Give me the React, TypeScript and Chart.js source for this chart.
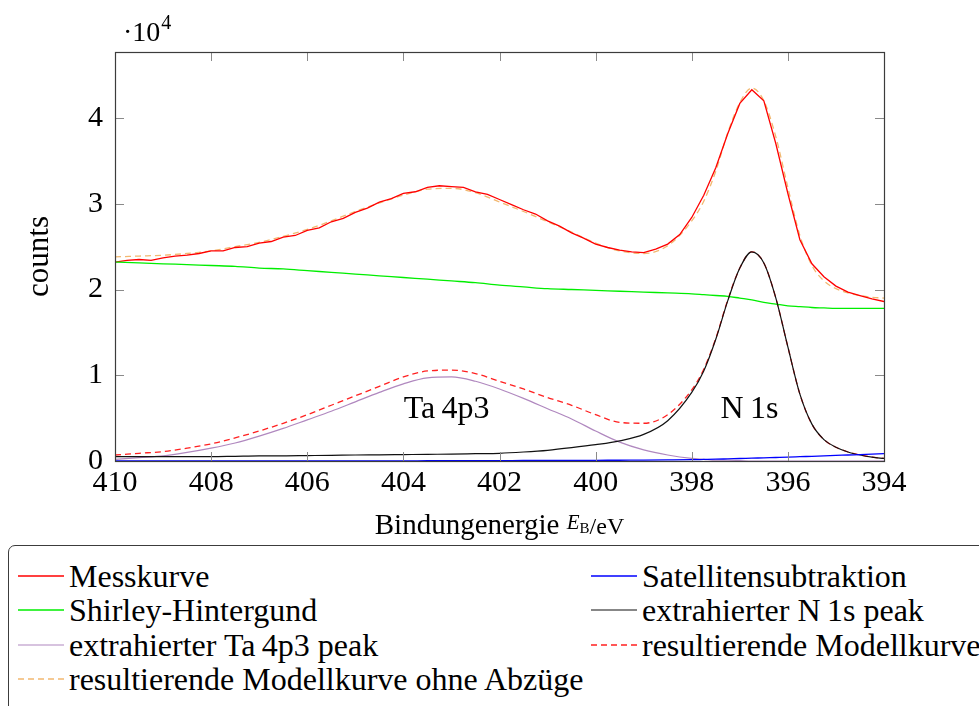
import React, { useEffect, useRef } from "react";
import { Chart, registerables } from "chart.js";

Chart.register(...registerables);

const SERIF = '"Liberation Serif", "Times New Roman", "DejaVu Serif", serif';

// Binding energy grid of the measured curve (eV)
const ENERGY_MEAS = [
  410, 409.75, 409.5, 409.25, 409, 408.75, 408.5, 408.25, 408, 407.75, 407.5, 407.25, 407,
  406.75, 406.5, 406.25, 406, 405.75, 405.5, 405.25, 405, 404.75, 404.5, 404.25, 404, 403.75,
  403.5, 403.25, 403, 402.75, 402.5, 402.25, 402, 401.75, 401.5, 401.25, 401, 400.75, 400.5,
  400.25, 400, 399.75, 399.5, 399.25, 399, 398.75, 398.5, 398.25, 398, 397.75, 397.5, 397.25,
  397, 396.75, 396.5, 396.25, 396, 395.75, 395.5, 395.25, 395, 394.75, 394.5, 394.25, 394,
];
// counts / 10^4
const MESSKURVE = [
  2.32, 2.34, 2.35, 2.34, 2.37, 2.39, 2.4, 2.42, 2.45, 2.45, 2.49, 2.5, 2.54, 2.56, 2.61, 2.63,
  2.69, 2.72, 2.79, 2.83, 2.9, 2.95, 3.02, 3.06, 3.12, 3.14, 3.19, 3.21, 3.2, 3.19, 3.14, 3.11,
  3.05, 2.99, 2.93, 2.88, 2.8, 2.74, 2.66, 2.6, 2.53, 2.49, 2.46, 2.44, 2.43, 2.47, 2.53, 2.64,
  2.84, 3.1, 3.42, 3.82, 4.17, 4.33, 4.2, 3.7, 3.12, 2.58, 2.3, 2.15, 2.04, 1.97, 1.93, 1.89, 1.86,
];

// Binding energy grid of the fitted components (eV)
const ENERGY_FIT = [
  410, 409.5, 409, 408.5, 408, 407.5, 407, 406.5, 406, 405.5, 405, 404.5, 404, 403.5, 403, 402.5,
  402, 401.5, 401, 400.5, 400, 399.5, 399, 398.5, 398, 397.75, 397.5, 397.25, 397, 396.75, 396.5,
  396.25, 396, 395.75, 395.5, 395.25, 395, 394.75, 394.5, 394.25, 394,
];
const SHIRLEY = [
  2.32, 2.31, 2.3, 2.29, 2.28, 2.27, 2.25, 2.24, 2.22, 2.2, 2.18, 2.16, 2.14, 2.12, 2.1, 2.08,
  2.05, 2.03, 2.01, 2.0, 1.99, 1.98, 1.97, 1.96, 1.95, 1.94, 1.93, 1.92, 1.9, 1.88, 1.85, 1.83,
  1.81, 1.8, 1.79, 1.785, 1.78, 1.78, 1.78, 1.78, 1.78,
];
const SATELLIT = [
  0, 0, 0, 0, 0, 0, 0, 0, 0, 0, 0, 0, 0, 0.003, 0.004, 0.005, 0.005, 0.006, 0.006, 0.007, 0.008,
  0.009, 0.01, 0.012, 0.015, 0.018, 0.021, 0.025, 0.029, 0.033, 0.037, 0.041, 0.045, 0.05, 0.055,
  0.06, 0.065, 0.07, 0.075, 0.08, 0.085,
];
const N1S = [
  0.05, 0.05, 0.05, 0.05, 0.05, 0.055, 0.06, 0.06, 0.063, 0.066, 0.07, 0.072, 0.075, 0.078, 0.08,
  0.085, 0.09, 0.105, 0.125, 0.155, 0.19, 0.235, 0.31, 0.47, 0.8, 1.05, 1.42, 1.87, 2.25, 2.44,
  2.31, 1.9, 1.33, 0.78, 0.43, 0.25, 0.16, 0.105, 0.07, 0.045, 0.03,
];
const TA4P3 = [
  0.02, 0.04, 0.06, 0.1, 0.15, 0.21, 0.29, 0.38, 0.48, 0.58, 0.69, 0.8, 0.9, 0.97, 0.98, 0.93,
  0.84, 0.73, 0.61, 0.49, 0.35, 0.22, 0.13, 0.07, 0.03, 0.02, 0.01, 0.01, 0.005, 0, 0, 0, 0, 0, 0,
  0, 0, 0, 0, 0, 0,
];
const MODELL = [
  0.07, 0.09, 0.11, 0.15, 0.2, 0.27, 0.35, 0.44, 0.54, 0.65, 0.76, 0.87, 0.98, 1.05, 1.06, 1.02,
  0.93, 0.84, 0.74, 0.65, 0.54, 0.45, 0.44, 0.54, 0.83, 1.07, 1.43, 1.88, 2.25, 2.44, 2.31, 1.9,
  1.33, 0.78, 0.43, 0.25, 0.16, 0.105, 0.07, 0.045, 0.03,
];
const MODELL_GESAMT = [
  2.38, 2.39, 2.4, 2.42, 2.45, 2.5, 2.55, 2.62, 2.7, 2.8, 2.91, 3.01, 3.1, 3.17, 3.18, 3.13,
  3.02, 2.91, 2.79, 2.67, 2.54, 2.45, 2.42, 2.51, 2.8, 3.03, 3.38, 3.83, 4.18, 4.35, 4.2, 3.78,
  3.19, 2.63, 2.28, 2.1, 2.01, 1.96, 1.93, 1.91, 1.9,
];

const X_TICKS = [410, 408, 406, 404, 402, 400, 398, 396, 394];
const Y_TICKS = [0, 1, 2, 3, 4];
const X_MIN = 394;
const X_MAX = 410;
const Y_MIN = 0;
const Y_MAX = 4.77;

const PEAK_LABELS = [
  { text: "Ta\u20094p3", x: 403.1, y: 0.6 },
  { text: "N\u20091s", x: 396.8, y: 0.6 },
];

type Series = {
  label: string;
  x: number[];
  y: number[];
  color: string;
  dash: number[];
  width: number;
  smooth: boolean;
};

// legend order (row-major, two columns)
const SERIES: Series[] = [
  { label: "Messkurve", x: ENERGY_MEAS, y: MESSKURVE, color: "#ff0000", dash: [], width: 1.3, smooth: false },
  { label: "Satellitensubtraktion", x: ENERGY_FIT, y: SATELLIT, color: "#0000ff", dash: [], width: 1.3, smooth: true },
  { label: "Shirley-Hintergund", x: ENERGY_FIT, y: SHIRLEY, color: "#00ee00", dash: [], width: 1.3, smooth: true },
  { label: "extrahierter N\u20091s peak", x: ENERGY_FIT, y: N1S, color: "#111111", dash: [], width: 1.2, smooth: true },
  { label: "extrahierter Ta\u20094p3 peak", x: ENERGY_FIT, y: TA4P3, color: "#b088bf", dash: [], width: 1.2, smooth: true },
  { label: "resultierende Modellkurve", x: ENERGY_FIT, y: MODELL, color: "#ff2020", dash: [6, 4], width: 1.3, smooth: true },
  { label: "resultierende Modellkurve ohne Abzüge", x: ENERGY_FIT, y: MODELL_GESAMT, color: "#f2b870", dash: [6, 4], width: 1.3, smooth: true },
];

// draw order (first drawn at bottom)
const DRAW_ORDER = [6, 5, 0, 2, 4, 3, 1];

const TICK_LEN = 9;
const TICK_FONT = 30;
const TEXT_FONT = 31;

const decorPlugin = {
  id: "decor",
  afterDraw(chart: any) {
    const { ctx, chartArea: a, scales } = chart;
    const xs = scales.x;
    const ys = scales.y;
    ctx.save();
    // inward tick marks on all four sides
    ctx.strokeStyle = "#8a8a8a";
    ctx.lineWidth = 1;
    ctx.beginPath();
    for (const t of X_TICKS) {
      const px = Math.round(xs.getPixelForValue(t)) + 0.5;
      ctx.moveTo(px, a.bottom);
      ctx.lineTo(px, a.bottom - TICK_LEN);
      ctx.moveTo(px, a.top);
      ctx.lineTo(px, a.top + TICK_LEN);
    }
    for (const t of Y_TICKS) {
      const py = Math.round(ys.getPixelForValue(t)) + 0.5;
      ctx.moveTo(a.left, py);
      ctx.lineTo(a.left + TICK_LEN, py);
      ctx.moveTo(a.right, py);
      ctx.lineTo(a.right - TICK_LEN, py);
    }
    ctx.stroke();
    // frame
    ctx.strokeStyle = "#3c3c3c";
    ctx.lineWidth = 1.2;
    ctx.strokeRect(Math.round(a.left) + 0.5, Math.round(a.top) + 0.5, Math.round(a.right - a.left), Math.round(a.bottom - a.top));

    ctx.fillStyle = "#000";
    // peak labels
    ctx.font = `32px ${SERIF}`;
    ctx.textAlign = "center";
    ctx.textBaseline = "middle";
    for (const p of PEAK_LABELS) {
      ctx.fillText(p.text, xs.getPixelForValue(p.x), ys.getPixelForValue(p.y));
    }

    // y axis title
    ctx.save();
    ctx.translate(40, (a.top + a.bottom) / 2);
    ctx.rotate(-Math.PI / 2);
    ctx.textAlign = "center";
    ctx.textBaseline = "middle";
    ctx.font = `${TEXT_FONT}px ${SERIF}`;
    ctx.fillText("counts", 0, 0);
    ctx.restore();

    // scale multiplier ·10^4
    ctx.textAlign = "left";
    ctx.textBaseline = "alphabetic";
    ctx.font = `28px ${SERIF}`;
    const base = "\u00b710";
    ctx.fillText(base, 123, 41);
    const bw = ctx.measureText(base).width;
    ctx.font = `20px ${SERIF}`;
    ctx.fillText("4", 123 + bw + 1, 29);

    // x axis title: Bindungenergie E_B/eV
    const cx = (a.left + a.right) / 2;
    const by = 534;
    const f1 = `29px ${SERIF}`;
    const f2 = `italic 21px ${SERIF}`;
    const f3 = `15px ${SERIF}`;
    const f4 = `24px ${SERIF}`;
    ctx.font = f1;
    const t1 = "Bindungenergie ";
    const w1 = ctx.measureText(t1).width;
    ctx.font = f2;
    const w2 = ctx.measureText("E").width;
    ctx.font = f3;
    const w3 = ctx.measureText("B").width;
    ctx.font = f4;
    const w4 = ctx.measureText("/eV").width;
    let x0 = cx - (w1 + w2 + w3 + w4) / 2;
    ctx.font = f1;
    ctx.fillText(t1, x0, by);
    x0 += w1;
    ctx.font = f2;
    ctx.fillText("E", x0, by - 5);
    x0 += w2;
    ctx.font = f3;
    ctx.fillText("B", x0, by - 1);
    x0 += w3;
    ctx.font = f4;
    ctx.fillText("/eV", x0, by);
    ctx.restore();
  },
};

export default function App() {
  const ref = useRef<HTMLCanvasElement>(null);

  useEffect(() => {
    const datasets = DRAW_ORDER.map((idx, k) => {
      const s = SERIES[idx];
      return {
        label: s.label,
        data: s.x.map((x, i) => ({ x, y: s.y[i] })),
        borderColor: s.color,
        backgroundColor: s.color,
        borderWidth: s.width,
        borderDash: s.dash,
        pointRadius: 0,
        fill: false,
        tension: 0,
        cubicInterpolationMode: s.smooth ? "monotone" : "default",
        order: DRAW_ORDER.length - k,
      };
    });

    const chart = new Chart(ref.current!, {
      type: "line",
      data: { datasets: datasets as any },
      plugins: [decorPlugin],
      options: {
        animation: false,
        responsive: true,
        maintainAspectRatio: false,
        layout: { padding: { top: 52, right: 95, left: 0, bottom: 0 } },
        plugins: { legend: { display: false }, tooltip: { enabled: false } },
        scales: {
          x: {
            type: "linear",
            reverse: true,
            min: X_MIN,
            max: X_MAX,
            afterFit: (s: any) => {
              s.height = 79;
            },
            afterBuildTicks: (s: any) => {
              s.ticks = X_TICKS.map((v) => ({ value: v }));
            },
            grid: { display: false, drawTicks: false },
            border: { display: false },
            ticks: {
              padding: 4,
              color: "#000",
              font: { family: SERIF, size: TICK_FONT },
              maxRotation: 0,
              autoSkip: false,
              callback: (v: any) => String(v),
            },
          },
          y: {
            type: "linear",
            min: Y_MIN,
            max: Y_MAX,
            afterFit: (s: any) => {
              s.width = 115;
            },
            afterBuildTicks: (s: any) => {
              s.ticks = Y_TICKS.map((v) => ({ value: v }));
            },
            grid: { display: false, drawTicks: false },
            border: { display: false },
            ticks: {
              padding: 12,
              color: "#000",
              font: { family: SERIF, size: TICK_FONT },
              callback: (v: any) => String(v),
            },
          },
        },
      },
    });
    return () => chart.destroy();
  }, []);

  const ROW_H = 34.3;
  const COL_X = [9, 582];
  return (
    <div
      style={{
        position: "fixed",
        left: 0,
        top: 0,
        width: 979,
        height: 706,
        overflow: "hidden",
        background: "#fff",
        fontFamily: SERIF,
      }}
    >
      <div style={{ position: "absolute", left: 0, top: 0, width: 979, height: 540 }}>
        <canvas ref={ref} />
      </div>
      <div
        style={{
          position: "absolute",
          left: 8,
          top: 545,
          width: 1010,
          height: 220,
          border: "1px solid #3c3c3c",
          borderTopLeftRadius: 7,
          boxSizing: "border-box",
        }}
      >
        {SERIES.map((s, i) => {
          const col = i % 2;
          const row = Math.floor(i / 2);
          const top = 12 + row * ROW_H;
          return (
            <div
              key={s.label}
              style={{
                position: "absolute",
                left: COL_X[col],
                top,
                height: 36,
                display: "flex",
                alignItems: "center",
                whiteSpace: "nowrap",
                fontSize: 32,
                lineHeight: "36px",
                color: "#000",
              }}
            >
              <svg width={46} height={6} style={{ marginRight: 5, display: "block" }}>
                <line
                  x1={0}
                  y1={3}
                  x2={46}
                  y2={3}
                  stroke={s.color}
                  strokeWidth={s.width}
                  strokeDasharray={s.dash.length ? s.dash.join(",") : undefined}
                />
              </svg>
              <span>{s.label}</span>
            </div>
          );
        })}
      </div>
    </div>
  );
}
